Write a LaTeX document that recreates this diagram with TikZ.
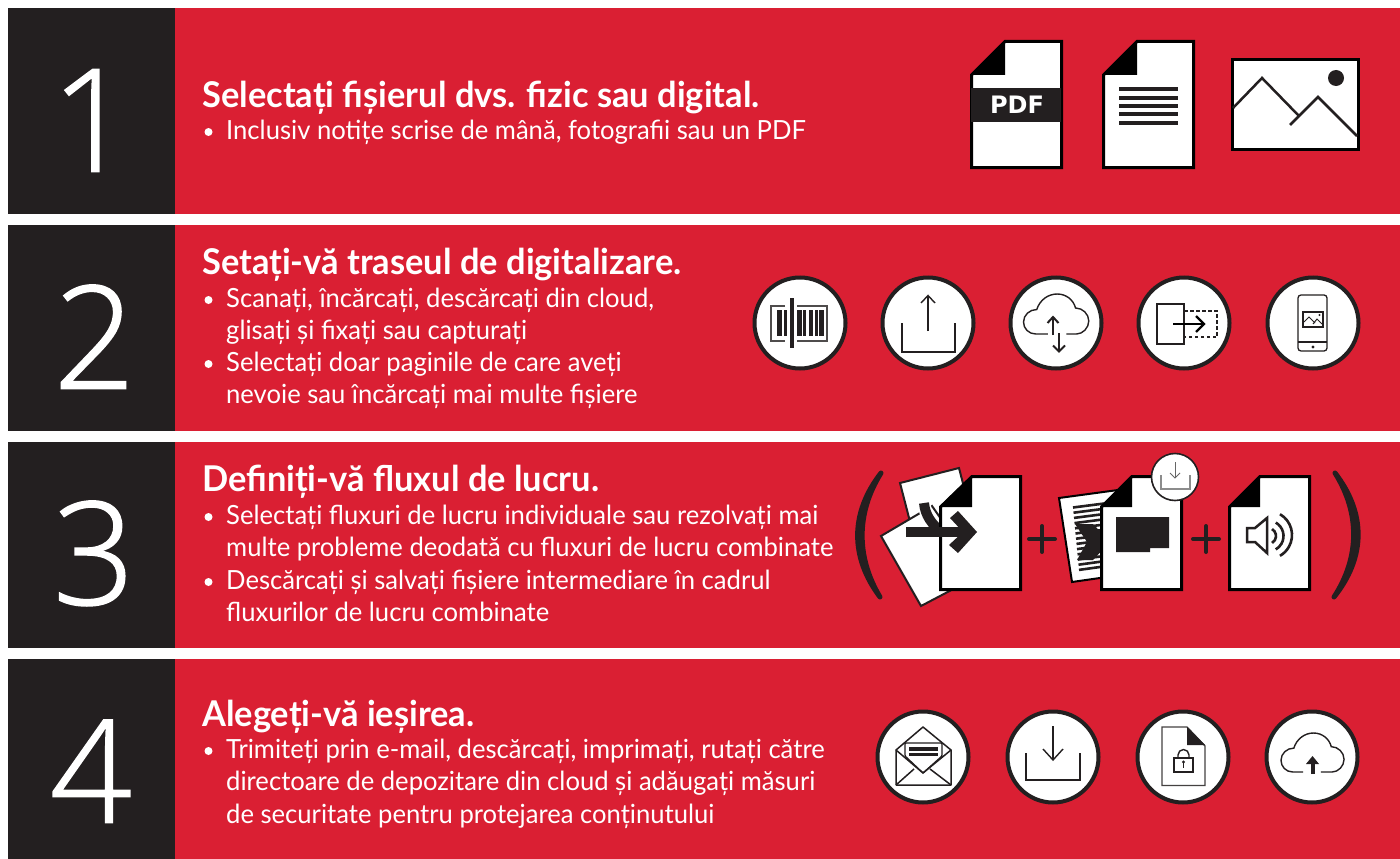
\documentclass[tikz,border=0pt]{standalone}
\usepackage{fontspec}
\setmainfont[FakeStretch=0.97]{Lato}
\newfontfamily\digitfont[FakeBold=1.2]{Open Sans Light}
\newfontfamily\pdffont{DejaVu Sans}
\definecolor{xred}{HTML}{DA1F33}
\definecolor{xdark}{HTML}{231F20}
\tikzset{
  band/.style={fill=xred,draw=none},
  numpanel/.style={fill=xdark,draw=none},
  digit/.style={anchor=base,text=white,inner sep=0pt,font=\digitfont\fontsize{143}{143}\selectfont},
  headline/.style={anchor=base west,text=white,inner sep=0pt,font=\bfseries\fontsize{35.5}{40}\selectfont},
  bodyline/.style={anchor=base west,text=white,inner sep=0pt,font=\fontsize{26.4}{32}\selectfont},
  iconring/.style={fill=white,draw=xdark,line width=4pt},
  thinline/.style={draw=xdark,line width=1.4pt},
  docbox/.style={fill=white,draw=black,line width=3pt,miter limit=10},
  paren/.style={fill=xdark,draw=xdark,line width=5pt,line cap=round,line join=round},
  plusmark/.style={draw=xdark,line width=4pt,line cap=round},
}
\newcommand{\docicon}[4]{%
  \edef\dtop{\csname dt\endcsname}\edef\dbot{\csname db\endcsname}%
  \draw[docbox] (#1,\dbot) -- (#1,#4) -- (#3,\dtop) -- (#2,\dtop) -- (#2,\dbot) -- cycle;
  \fill[black] (#3,\dtop-1.5) -- (#3,#4) -- (#1-1.5,#4) -- cycle;
}
\newcommand{\cloudshape}[2]{%
  (#1,40) -- (12,40) .. controls (5,40) and (0,34.5) .. (0,28) .. controls (0,21) and (6,15.5) .. (13,15.5)
  .. controls (16,6) and (24,0) .. (33,0) .. controls (42,0) and (49,6) .. (51,14)
  .. controls (58,14) and (64,20) .. (64,27) .. controls (64,34) and (58,40) .. (52,40) -- (#2,40)
}
\begin{document}
\begin{tikzpicture}[x=1pt,y=-1pt]
\useasboundingbox (0,0) rectangle (1400,859);
\fill[white] (0,0) rectangle (1400,859);
% panels
\fill[numpanel] (8,8) rectangle (175,214);
\fill[band] (175,8) rectangle (1400,214);
\fill[numpanel] (8,225) rectangle (175,431);
\fill[band] (175,225) rectangle (1400,431);
\fill[numpanel] (8,442) rectangle (175,648);
\fill[band] (175,442) rectangle (1400,648);
\fill[numpanel] (8,659) rectangle (175,859);
\fill[band] (175,659) rectangle (1400,859);
% digits
\node[digit] (d1) at (92,171.5) {1};
\node[digit] (d2) at (94.5,388.5) {2};
\node[digit] (d3) at (94,604.5) {3};
\node[digit] (d4) at (91,822.5) {4};
% text row 1
\node[headline] (t1) at (202,107) {Selectați fișierul dvs. fizic sau digital.};
\fill[white] (208.5,132) circle (4);
\node[bodyline] (l11) at (226,139) {Inclusiv notițe scrise de mână, fotografii sau un PDF};
% text row 2
\node[headline] (t2) at (202,274) {Setați-vă traseul de digitalizare.};
\fill[white] (208.5,300) circle (4);
\node[bodyline] (l21) at (226,307) {Scanați, încărcați, descărcați din cloud,};
\node[bodyline] (l22) at (226,339) {glisați și fixați sau capturați};
\fill[white] (208.5,364) circle (4);
\node[bodyline] (l23) at (226,371) {Selectați doar paginile de care aveți};
\node[bodyline] (l24) at (226,403) {nevoie sau încărcați mai multe fișiere};
% text row 3
\node[headline] (t3) at (202,491) {Definiți-vă fluxul de lucru.};
\fill[white] (208.5,517) circle (4);
\node[bodyline] (l31) at (226,524) {Selectați fluxuri de lucru individuale sau rezolvați mai};
\node[bodyline] (l32) at (226,556) {multe probleme deodată cu fluxuri de lucru combinate};
\fill[white] (208.5,582) circle (4);
\node[bodyline] (l33) at (226,589) {Descărcați și salvați fișiere intermediare în cadrul};
\node[bodyline] (l34) at (226,621) {fluxurilor de lucru combinate};
% text row 4
\node[headline] (t4) at (202,726) {Alegeți-vă ieșirea.};
\fill[white] (208.5,751) circle (4);
\node[bodyline] (l41) at (226,758) {Trimiteți prin e-mail, descărcați, imprimați, rutați către};
\node[bodyline] (l42) at (226,790) {directoare de depozitare din cloud și adăugați măsuri};
\node[bodyline] (l43) at (226,823) {de securitate pentru protejarea conținutului};
% row 1 icons
\def\dt{41.5}\def\db{167.5}
\docicon{971.5}{1061.5}{1005}{75}
\fill[xdark] (971,88) rectangle (1061,122);
\node[text=white,inner sep=0pt,font=\pdffont\bfseries\fontsize{24}{24}\selectfont] (pdf) at (1017,105) {PDF};
\docicon{1103.5}{1193.5}{1137}{75}
\foreach \yy in {89,97.5,106,114,123}{\fill[xdark] (1119,\yy-2) rectangle (1178,\yy+2);}
\draw[fill=white,draw=black,line width=3pt] (1232.5,59.5) rectangle (1358.5,149.5);
\fill[xdark] (1336,78) circle (8);
\draw[xdark,line width=2.5pt] (1233,108) -- (1262,78) -- (1299,116);
\draw[xdark,line width=2.5pt] (1290,125) -- (1318,97) -- (1357,136);
% row 2 rings
\foreach \cx in {800,928,1056,1184,1313}{\draw[iconring] (\cx,323) circle (45.5);}
% barcode
\draw[xdark!80,line width=1.3pt] (785,306) -- (771,306) -- (771,341) -- (785,341);
\draw[xdark!80,line width=1.3pt] (797,306) -- (827,306) -- (827,341) -- (797,341);
\fill[xdark] (777,310) rectangle (782,336);
\fill[xdark] (783.5,310) rectangle (787,336);
\fill[xdark] (797,310) rectangle (802,336);
\fill[xdark] (803,310) rectangle (806,336);
\fill[xdark] (809,310) rectangle (813,336);
\fill[xdark] (814.5,310) rectangle (817.5,336);
\fill[xdark] (819,310) rectangle (824,336);
\fill[xdark] (790.2,298) rectangle (793.8,348);
% upload
\draw[thinline] (902,323) -- (902,352) -- (955,352) -- (955,323);
\draw[thinline] (928,331) -- (928,295.5);
\draw[thinline] (921,303) -- (928,295.5) -- (935,303);
% cloud up/down
\begin{scope}[shift={(1023.5,294)},xscale=1.02]
\draw[thinline] \cloudshape{24}{42};
\end{scope}
\draw[draw=xdark,line width=2pt] (1053,335) -- (1053,317);
\draw[draw=xdark,line width=2pt] (1047.5,323) -- (1053,317) -- (1058.5,323);
\draw[draw=xdark,line width=1.8pt] (1059,333) -- (1059,351.5);
\draw[draw=xdark,line width=1.8pt] (1053,345.5) -- (1059,351.5) -- (1065,345.5);
% transfer
\draw[draw=xdark,line width=1.6pt,dash pattern=on 3.5pt off 2.5pt] (1184,311) -- (1217,311) -- (1217,337) -- (1184,337);
\draw[draw=xdark,line width=1.6pt] (1157,304) rectangle (1184,344);
\draw[draw=black,line width=2.2pt] (1173,324) -- (1204,324);
\draw[draw=black,line width=2.2pt] (1196,316) -- (1204,324) -- (1196,332);
% phone
\draw[draw=xdark,line width=1.3pt,rounded corners=3pt] (1298,295) rectangle (1327,351);
\draw[draw=xdark,line width=1.3pt] (1298,342) -- (1327,342);
\fill[xdark] (1313,347) circle (1.6);
\draw[draw=xdark,line width=1.5pt] (1303,312) rectangle (1323,327);
\draw[draw=xdark,line width=1pt] (1304,322) -- (1309,317) -- (1315,323);
\draw[draw=xdark,line width=1pt] (1313,324) -- (1317,319) -- (1322,324);
\fill[xdark] (1319.5,315) circle (1.2);
% row 3: parentheses
\path[paren] (881,473) .. controls (850,513) and (850,557) .. (880,597) .. controls (856,557) and (856,513) .. (881,473) -- cycle;
\path[paren] (1335,473) .. controls (1366,513) and (1366,557) .. (1334,597) .. controls (1360,557) and (1360,513) .. (1335,473) -- cycle;
% merge icon
\draw[fill=white,draw=xdark,line width=2pt] (900,483) -- (959,468) -- (975,530) -- (916,545) -- cycle;
\draw[fill=white,draw=xdark,line width=2pt] (881,536) -- (932,506) -- (980,575) -- (921,606) -- cycle;
\draw[draw=white,line width=13pt] (924,503) .. controls (925,515) and (932,525) .. (942,532);
\draw[draw=xdark,line width=10pt] (924,503) .. controls (925,515) and (932,525) .. (942,532);
\def\dt{476.5}\def\db{589.5}
\docicon{940.5}{1020.5}{972}{507}
\fill[xdark] (906,527) rectangle (965,537);
\fill[xdark] (950,518) -- (958,511) -- (977,532) -- (958,553) -- (949,545) -- (963,532) -- cycle;
\draw[plusmark] (1029,539) -- (1055,539);
\draw[plusmark] (1042,526) -- (1042,552);
% ocr icon
\draw[fill=white,draw=black,line width=2pt] (1059,498) -- (1118,490) -- (1128,574) -- (1072,582) -- cycle;
\begin{scope}
\clip (1060,498) -- (1118,490) -- (1128,574) -- (1072,582) -- cycle;
\foreach \k in {0,...,12}{\draw[draw=xdark,line width=2.6pt] (1073+0.5*\k,507.5+5.2*\k) -- (1112+0.5*\k-0.02*\k*\k,502.5+5.2*\k);}
\end{scope}
\fill[xdark] (1075,524) -- (1093,524) -- (1110,542) -- (1093,560) -- (1077,560) -- (1087,542) -- cycle;
\docicon{1101.5}{1181.5}{1132}{507}
\fill[xdark] (1116,517) -- (1169,517) -- (1169,548) -- (1150,548) -- (1150,552) -- (1116,552) -- cycle;
\draw[fill=white,draw=xdark,line width=1.6pt] (1175,477) circle (23.5);
\draw[draw=black!45,line width=1.4pt] (1161,475) -- (1161,489) -- (1190,489) -- (1190,475);
\draw[draw=black!60,line width=1pt] (1175,462) -- (1175,478);
\draw[draw=black!60,line width=1pt] (1170,473) -- (1175,478) -- (1180,473);
\draw[plusmark] (1193,539) -- (1219,539);
\draw[plusmark] (1206,526) -- (1206,552);
% audio doc
\docicon{1229.5}{1309.5}{1260}{507}
\draw[draw=xdark,line width=2.5pt,line join=miter] (1247,528) -- (1255,528) -- (1267,518) -- (1267,553) -- (1255,542) -- (1247,542) -- cycle;
\draw[draw=xdark,line width=2.6pt] (1268,536) ++(-60:8) arc[start angle=-60,end angle=60,radius=8];
\draw[draw=xdark,line width=2.6pt] (1268,536) ++(-60:15.5) arc[start angle=-60,end angle=60,radius=15.5];
\draw[draw=xdark,line width=2.6pt] (1268,535) ++(-60:24) arc[start angle=-60,end angle=60,radius=24];
% row 4 rings
\foreach \cx in {923,1053,1183,1312}{\draw[iconring] (\cx,757) circle (45.5);}
% envelope
\draw[draw=xdark,line width=1.5pt,line join=round] (896,750) -- (923,727) -- (951,750) -- (951,785) -- (896,785) -- cycle;
\draw[draw=xdark,line width=1.5pt] (896,785) -- (914,769);
\draw[draw=xdark,line width=1.5pt] (951,785) -- (930,769);
\draw[fill=white,draw=xdark,line width=1.3pt,rounded corners=1pt] (905,756) -- (905,743) -- (942,743) -- (942,756) -- (923,773) -- cycle;
\draw[draw=xdark,line width=1.5pt] (896,750) -- (923,773) -- (951,750);
\fill[xdark] (909,747) rectangle (938,751);
\fill[xdark] (909,752.5) rectangle (938,756);
% download
\draw[thinline] (1026,753) -- (1026,780) -- (1080,780) -- (1080,753);
\draw[thinline] (1053,726) -- (1053,760);
\draw[thinline] (1043,749) -- (1053,760) -- (1063,749);
% lock doc
\draw[draw=xdark!85,line width=1.4pt] (1162,727) -- (1187,727) -- (1205,746) -- (1205,785.5) -- (1162,785.5) -- cycle;
\fill[xdark] (1187,727) -- (1205,745) -- (1187,745) -- cycle;
\draw[draw=xdark,line width=1.4pt] (1174,758) rectangle (1193,772);
\draw[draw=xdark,line width=1.4pt] (1178,758) -- (1178,755) arc[start angle=180,end angle=360,radius=5.5] -- (1189,758);
\fill[xdark] (1183.5,762) circle (1.6);
\draw[draw=xdark,line width=1pt] (1183.5,762) -- (1183.5,768);
% cloud up
\begin{scope}[shift={(1281,733)},xscale=0.985,yscale=0.975]
\draw[thinline] \cloudshape{22.5}{40.5};
\end{scope}
\draw[draw=xdark,line width=4pt] (1312.5,774) -- (1312.5,762);
\fill[xdark] (1312.5,756) -- (1319,764) -- (1306,764) -- cycle;
\end{tikzpicture}
\end{document}
